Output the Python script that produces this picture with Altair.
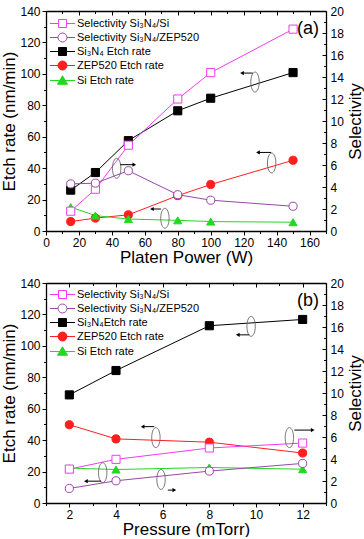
import altair as alt
import pandas as pd

FONT = "Liberation Sans"

# ---------------- data: panel (a) ----------------
power = [15, 30, 50, 80, 100, 150]
a_sel_si = [1.8, 3.8, 7.8, 12.0, 14.4, 18.35]
a_sel_zep = [4.28, 4.35, 5.48, 3.3, 2.8, 2.25]
a_si3n4 = [26.0, 37.2, 57.5, 76.5, 84.5, 100.8]
a_zep = [6.0, 8.2, 10.3, 22.5, 29.6, 45.0]
a_si = [15.2, 9.8, 7.6, 6.8, 6.0, 5.6]

# ---------------- data: panel (b) ----------------
pressure = [2, 4, 8, 12]
b_sel_si = [3.08, 3.97, 5.0, 5.45]
b_sel_zep = [1.32, 2.02, 2.9, 3.6]
b_si3n4 = [68.8, 84.3, 112.8, 116.8]
b_zep = [49.8, 40.8, 38.7, 31.8]
b_si = [22.2, 21.3, 22.6, 21.5]

names_a = ["Selectivity Si₃N₄/Si", "Selectivity Si₃N₄/ZEP520",
           "Si₃N₄ Etch rate", "ZEP520 Etch rate", "Si Etch rate"]
names_b = ["Selectivity Si₃N₄/Si", "Selectivity Si₃N₄/ZEP520",
           "Si₃N₄Etch rate", "ZEP520 Etch rate", "Si Etch rate"]

colors = ["#f03cf0", "#9a46aa", "#000000", "#ff1e1e", "#22d822"]
fills = ["#ffffff", "#ffffff", "#000000", "#ff1e1e", "#22d822"]
shapes = ["square", "circle", "square", "circle", "triangle-up"]
legend_paths = [
    "M-2.5,0H-0.8M0.8,0H2.5M-0.8,-0.8H0.8V0.8H-0.8Z",
    "M-2.5,0H-0.9M0.9,0H2.5M0.9,0A0.9,0.9 0 1,1 -0.9,0A0.9,0.9 0 1,1 0.9,0Z",
    "M-2.5,0H-0.8M0.8,0H2.5M-0.8,-0.8H0.8V0.8H-0.8Z",
    "M-2.5,0H-0.9M0.9,0H2.5M0.9,0A0.9,0.9 0 1,1 -0.9,0A0.9,0.9 0 1,1 0.9,0Z",
    "M-2.5,0H-0.5M0.5,0H2.5M0,-0.95L1.0,0.75H-1.0Z",
]
ellipse_path = "M0,-1A0.42,1 0 1,1 0,1A0.42,1 0 1,1 0,-1Z"

# annotations (ellipses + arrows), in data coordinates of the left axis
a_ell_x = [126.9, 42.9, 137.0, 72.2]
a_ell_y = [94.8, 39.9, 43.3, 8.1]
a_arr_x1 = [125.5, 45.1, 136.6, 69.8]
a_arr_x2 = [119.0, 53.6, 128.7, 64.3]
a_arr_y = [100.5, 42.2, 50.0, 14.0]
a_arr_dir = ["left", "right", "left", "left"]

b_ell_x = [9.79, 5.71, 11.43, 3.43, 5.93]
b_ell_y = [112.4, 41.6, 41.6, 19.3, 15.0]
b_arr_x1 = [9.71, 5.64, 11.64, 3.36, 6.22]
b_arr_x2 = [9.22, 5.14, 12.43, 2.71, 6.50]
b_arr_y = [107.0, 48.6, 46.4, 13.9, 8.2]
b_arr_dir = ["left", "left", "right", "left", "right"]

W, H = 280, 220


def long_df(xs, series, names):
    rows = []
    for vals, n in zip(series, names):
        for x, v in zip(xs, vals):
            rows.append({"x": x, "v": v, "s": n})
    return pd.DataFrame(rows)


def panel(xs, sel, etch, names, xdom, xmaj, xmin, xtitle,
          ex, ey, ax1, ax2, ay, adir, tag, tagx, tagy, leg_y):
    sel_df = long_df(xs, sel, names[:2])
    etch_df = long_df(xs, etch, names[2:])
    ell_df = pd.DataFrame({"x": ex, "v": ey})
    arr_df = pd.DataFrame({"x": ax1, "x2": ax2, "v": ay, "d": adir})
    tag_df = pd.DataFrame({"x": [tagx], "v": [tagy], "t": [tag]})

    xs_scale = alt.Scale(domain=xdom, nice=False, zero=False)
    yl_scale = alt.Scale(domain=[0, 140], nice=False, zero=False)
    yr_scale = alt.Scale(domain=[0, 20], nice=False, zero=False)

    def X(axis):
        return alt.X("x:Q", scale=xs_scale, axis=axis)

    def YL(axis):
        return alt.Y("v:Q", scale=yl_scale, axis=axis)

    def YR(axis):
        return alt.Y("v:Q", scale=yr_scale, axis=axis)

    cscale = alt.Scale(domain=names, range=colors)
    fscale = alt.Scale(domain=names, range=fills)
    sscale = alt.Scale(domain=names, range=shapes)

    ax_bottom = alt.Axis(orient="bottom", values=xmaj, title=xtitle, tickSize=4,
                         labelPadding=2, titlePadding=1, labelFlush=False,
                         labelOverlap=False, grid=False, domain=True)
    ax_bottom_min = alt.Axis(orient="bottom", values=xmin, title=None, tickSize=2.5,
                             labels=False, domain=False, grid=False)
    ax_top = alt.Axis(orient="bottom", offset=-H, values=xmaj, title=None, tickSize=4,
                      labels=False, domain=True, grid=False)
    ax_top_min = alt.Axis(orient="bottom", offset=-H, values=xmin, title=None,
                          tickSize=2.5, labels=False, domain=False, grid=False)
    ax_left = alt.Axis(orient="left", values=list(range(0, 141, 20)),
                       title="Etch rate (nm/min)", tickSize=4, labelPadding=2,
                       titlePadding=1, labelFlush=False, labelOverlap=False,
                       grid=False, domain=True)
    ax_left_min = alt.Axis(orient="left", values=list(range(10, 140, 20)), title=None,
                           tickSize=2.5, labels=False, domain=False, grid=False)
    ax_right = alt.Axis(orient="right", values=list(range(0, 21, 2)),
                        title="Selectivity", titleAngle=270, titleBaseline="top",
                        tickSize=0, ticks=False, labelPadding=4, titlePadding=4,
                        labelFlush=False, labelOverlap=False, grid=False, domain=True)
    ax_right_in = alt.Axis(orient="left", offset=-W, values=list(range(0, 21, 2)),
                           title=None, tickSize=4, labels=False, domain=False, grid=False)
    ax_right_in_min = alt.Axis(orient="left", offset=-W, values=list(range(7, 140, 14)),
                               title=None, tickSize=2.5, labels=False, domain=False,
                               grid=False)

    etch_lines = alt.Chart(etch_df).mark_line(strokeWidth=1).encode(
        x=X(ax_bottom), y=YL(ax_left),
        color=alt.Color("s:N", scale=cscale, legend=None))
    etch_pts = alt.Chart(etch_df).mark_point(filled=True, opacity=1, size=66,
                                             strokeWidth=1).encode(
        x=X(ax_bottom_min), y=YL(ax_left_min),
        shape=alt.Shape("s:N", scale=sscale, legend=None),
        stroke=alt.Stroke("s:N", scale=cscale, legend=None),
        fill=alt.Fill("s:N", scale=fscale, legend=None))
    sel_lines = alt.Chart(sel_df).mark_line(strokeWidth=1).encode(
        x=X(ax_top), y=YR(ax_right),
        color=alt.Color("s:N", scale=cscale, legend=None))
    sel_pts = alt.Chart(sel_df).mark_point(filled=True, opacity=1, size=66,
                                           strokeWidth=1).encode(
        x=X(ax_top_min), y=YR(ax_right_in),
        shape=alt.Shape("s:N", scale=sscale, legend=None),
        stroke=alt.Stroke("s:N", scale=cscale, legend=None),
        fill=alt.Fill("s:N", scale=fscale, legend=None))
    ells = alt.Chart(ell_df).mark_point(shape=ellipse_path, size=400, filled=False,
                                        opacity=1, stroke="#666666",
                                        strokeWidth=0.9).encode(
        x=X(None), y=YL(ax_right_in_min))
    arrows = alt.Chart(arr_df).mark_rule(color="#000000", strokeWidth=1).encode(
        x=X(None), x2="x2:Q", y=YL(None))
    heads = alt.Chart(arr_df).mark_point(filled=True, opacity=1, size=18,
                                         color="#000000").encode(
        x=alt.X("x2:Q", scale=xs_scale, axis=None), y=YL(None),
        shape=alt.Shape("d:N", scale=alt.Scale(domain=["left", "right"],
                                               range=["triangle-left", "triangle-right"]),
                        legend=None))
    tagtext = alt.Chart(tag_df).mark_text(font=FONT, fontSize=18, color="#000000").encode(
        x=X(None), y=YL(None), text="t:N")

    leg = alt.Legend(title=None, orient="none", legendX=11, legendY=leg_y, padding=0,
                     labelFont=FONT, labelFontSize=11, labelColor="#000000",
                     symbolSize=100, symbolStrokeWidth=1, rowPadding=1,
                     labelOffset=9, symbolOpacity=1)
    lscale_shape = alt.Scale(domain=names, range=legend_paths)
    legend_layer = alt.Chart(sel_df).transform_filter("false").mark_point(
        filled=True, opacity=1, size=100, strokeWidth=1).encode(
        shape=alt.Shape("s:N", scale=lscale_shape, legend=leg),
        stroke=alt.Stroke("s:N", scale=cscale, legend=leg),
        fill=alt.Fill("s:N", scale=fscale, legend=leg))

    return alt.layer(
        etch_lines, sel_lines, etch_pts, sel_pts, ells, arrows, heads, tagtext,
        legend_layer
    ).resolve_scale(
        y="independent", shape="independent", stroke="independent",
        fill="independent", color="independent"
    ).resolve_axis(x="independent", y="independent").properties(width=W, height=H)


pa = panel(power, [a_sel_si, a_sel_zep], [a_si3n4, a_zep, a_si], names_a,
           [0, 170], list(range(0, 161, 20)), list(range(10, 171, 20)),
           "Platen Power (W)", a_ell_x, a_ell_y, a_arr_x1, a_arr_x2, a_arr_y,
           a_arr_dir, "(a)", 159, 128.5, 7)
pb = panel(pressure, [b_sel_si, b_sel_zep], [b_si3n4, b_zep, b_si], names_b,
           [1, 13], list(range(2, 13, 2)), list(range(1, 14, 2)),
           "Pressure (mTorr)", b_ell_x, b_ell_y, b_arr_x1, b_arr_x2, b_arr_y,
           b_arr_dir, "(b)", 12.23, 128.5, 6)

chart = alt.vconcat(pa, pb, spacing=52, bounds="flush").resolve_scale(
    shape="independent", stroke="independent", fill="independent", color="independent"
).properties(
    padding={"left": 0, "top": 5, "right": 0, "bottom": 0},
    background="#ffffff",
).configure_view(stroke=None).configure_axis(
    labelFont=FONT, labelFontSize=12, labelColor="#000000",
    titleFont=FONT, titleFontSize=17, titleFontWeight="normal", titleColor="#000000",
    domainColor="#000000", domainWidth=1.3, tickColor="#000000", tickWidth=1,
)

chart.save("out.html", embed_options={"renderer": "svg", "actions": False})
